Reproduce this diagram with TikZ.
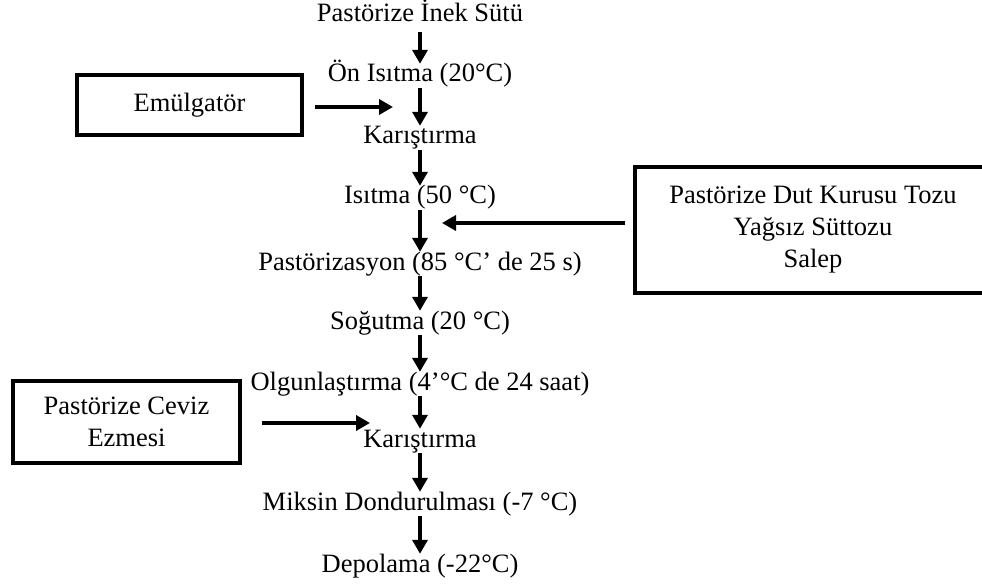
\documentclass[tikz,border=0pt]{standalone}
\usepackage{fontspec}
\setmainfont{Liberation Serif}
\usetikzlibrary{positioning, arrows.meta}

\begin{document}
\begin{tikzpicture}[x=1pt, y=-1pt,
        every node/.style={font=\fontsize{26.5}{32}\selectfont},
        stage/.style={inner sep=1pt, text height=17pt, text depth=5pt},
        input/.style={draw, line width=3.5pt, align=center, inner sep=0pt},
        flow/.style={-{Triangle[length=14pt, width=15pt]}, line width=3.6pt}
    ]
    \useasboundingbox (0,0) rectangle (982,585);
    % process stages
    \node[stage] (s1) at (420,16) {Pastörize İnek Sütü};
    \node[stage] (s2) at (420,76) {Ön Isıtma (20°C)};
    \node[stage] (s3) at (420,138) {Karıştırma};
    \node[stage] (s4) at (420,198) {Isıtma (50 °C)};
    \node[stage] (s5) at (420,264) {Pastörizasyon (85 °C’ de 25 s)};
    \node[stage] (s6) at (420,323) {Soğutma (20 °C)};
    \node[stage] (s7) at (420,384) {Olgunlaştırma (4’°C de 24 saat)};
    \node[stage] (s8) at (420,441) {Karıştırma};
    \node[stage] (s9) at (420,504) {Miksin Dondurulması (-7 °C)};
    \node[stage] (s10) at (420,566) {Depolama (-22°C)};
    \draw[flow, shorten <=4pt] (s1) -- (s2);
    \draw[flow] (s2) -- (s3);
    \draw[flow] (s3) -- (s4);
    \draw[flow] (s4) -- (s5);
    \draw[flow] (s5) -- (s6);
    \draw[flow] (s6) -- (s7);
    \draw[flow] (s7) -- (s8);
    \draw[flow] (s8) -- (s9);
    \draw[flow] (s9) -- (s10);
    % added ingredients
    \node[input, minimum width=225pt, minimum height=60pt] (emu) at (189.5,105) {Emülgatör};
    \node[input, minimum width=356pt, minimum height=126pt] (dut) at (813,230)
        {Pastörize Dut Kurusu Tozu\\Yağsız Süttozu\\Salep};
    \node[input, minimum width=227pt, minimum height=82pt] (ceviz) at (126.5,422)
        {Pastörize Ceviz\\Ezmesi};
    \coordinate (j1) at (393,107);
    \coordinate (j2) at (442,223);
    \coordinate (j3) at (370,423);
    \draw[flow] ([xshift=11pt, yshift=-2pt]emu.east) -- (j1);
    \draw[flow] ([xshift=-8pt, yshift=7pt]dut.west) -- (j2);
    \draw[flow] ([xshift=20pt, yshift=-1pt]ceviz.east) -- (j3);
\end{tikzpicture}
\end{document}
